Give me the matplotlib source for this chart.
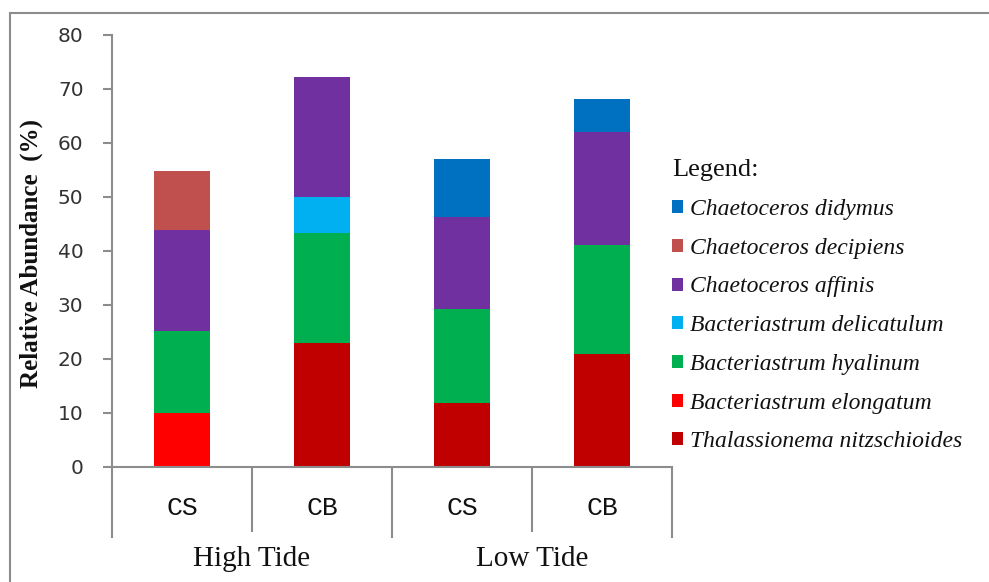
import numpy as np
import matplotlib.pyplot as plt
from matplotlib.patches import Patch, Rectangle

# site order: High Tide CS, High Tide CB, Low Tide CS, Low Tide CB
sites = ["CS", "CB", "CS", "CB"]
tides = ["High Tide", "Low Tide"]

species = [
    "Thalassionema nitzschioides",
    "Bacteriastrum elongatum",
    "Bacteriastrum hyalinum",
    "Bacteriastrum delicatulum",
    "Chaetoceros affinis",
    "Chaetoceros decipiens",
    "Chaetoceros didymus",
]
thalassionema = [0.0, 23.0, 11.9, 20.9]
elongatum = [10.0, 0.0, 0.0, 0.0]
hyalinum = [15.2, 20.4, 17.4, 20.3]
delicatulum = [0.0, 6.6, 0.0, 0.0]
affinis = [18.6, 22.2, 17.0, 20.8]
decipiens = [11.0, 0.0, 0.0, 0.0]
didymus = [0.0, 0.0, 10.8, 6.2]

colors = ["#C00000", "#FF0000", "#00B050", "#00B0F0", "#7030A0", "#C0504D", "#0070C0"]

W, H = 989, 582
fig = plt.figure(figsize=(W / 100, H / 100), dpi=100)
ax = fig.add_axes([112 / W, (H - 467) / H, 560 / W, 432 / H])

series = [thalassionema, elongatum, hyalinum, delicatulum, affinis, decipiens, didymus]
x = np.arange(len(sites)) + 0.5
bottom = np.zeros(len(sites))
for vals, c in zip(series, colors):
    vals = np.asarray(vals)
    ax.bar(x, vals, width=0.4, bottom=bottom, color=c, linewidth=0)
    bottom += vals

ax.set_xlim(0, 4)
ax.set_ylim(0, 80)
ax.set_yticks(np.arange(0, 81, 10))
for s in ["top", "right"]:
    ax.spines[s].set_visible(False)
for s in ["left", "bottom"]:
    ax.spines[s].set_color("#8c8c8c")
    ax.spines[s].set_linewidth(1.5)
ax.tick_params(axis="y", colors="#8c8c8c", length=6.5, width=1.5, labelcolor="#333333",
               labelsize=14.5, pad=14)

# category separators: long ticks between tide groups, shorter ones between sites
ax.set_xticks([0, 2, 4])
ax.set_xticklabels([])
ax.tick_params(axis="x", which="major", colors="#8c8c8c", length=51, width=1.5)
ax.set_xticks([1, 3], minor=True)
ax.tick_params(axis="x", which="minor", colors="#8c8c8c", length=47, width=1.5)

for xi, s in zip(x, sites):
    ax.text(xi, -0.111, s, transform=ax.get_xaxis_transform(), ha="center", va="baseline",
            fontsize=19, family="Liberation Mono", color="#111111")

for i, t in enumerate(tides):
    ax.text(1 + 2 * i, -0.229, t, transform=ax.get_xaxis_transform(), ha="center",
            va="baseline", fontsize=21, family="Liberation Serif", color="#111111")

fig.text(31 / W, 1 - 254 / H, "Relative Abundance  (%)", rotation=90, ha="center", va="center",
         family="Liberation Serif", fontweight="bold", fontsize=18, color="#111111")

fig.text(672 / W, 1 - 170 / H, "Legend:", ha="left", va="center",
         family="Liberation Serif", fontsize=19, color="#111111")

handles = [Patch(facecolor=c, edgecolor="none") for c in colors][::-1]
leg = fig.legend(handles, species[::-1], loc="upper left",
                 bbox_to_anchor=(672 / W, 1 - 199 / H), frameon=False,
                 borderpad=0, borderaxespad=0,
                 prop={"family": "Liberation Serif", "style": "italic", "size": 17},
                 handlelength=0.47, handleheight=0.47, handletextpad=0.3, labelspacing=0.75)
for txt in leg.get_texts():
    txt.set_color("#111111")

# outer border, cropped at right and bottom like the source image
fig.patches.append(Rectangle((10 / W, -0.1), 1.2, 1 - 13 / H + 0.1, transform=fig.transFigure,
                             fill=False, edgecolor="#8c8c8c", linewidth=1.5))

fig.savefig("out.png", dpi=100)
